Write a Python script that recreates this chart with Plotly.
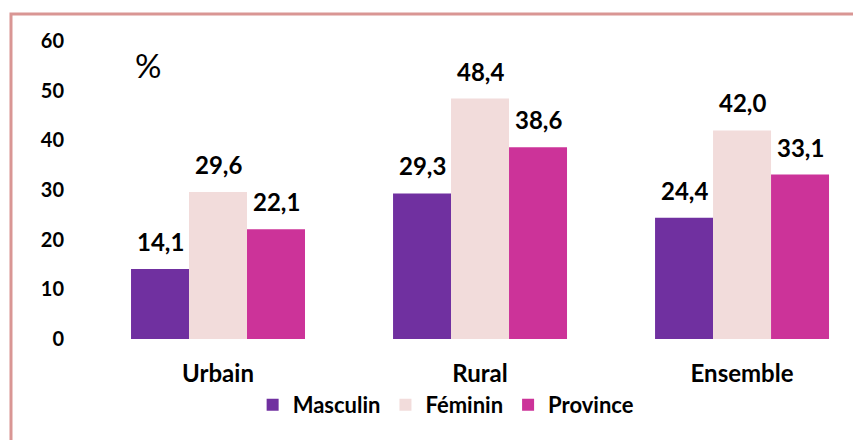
import plotly.graph_objects as go

categories = ["Urbain", "Rural", "Ensemble"]
series_names = ["Masculin", "Féminin", "Province"]
masculin = [14.1, 29.3, 24.4]
feminin = [29.6, 48.4, 42.0]
province = [22.1, 38.6, 33.1]
y_ticks = [0, 10, 20, 30, 40, 50, 60]

colors = ["#7030A0", "#F2DCDB", "#CC3399"]
series_values = [masculin, feminin, province]

FONT = "Lato"
bargap = 0.336
n = len(series_values)
w = (1 - bargap) / n
xpos = list(range(len(categories)))

fig = go.Figure()
for k, (name, vals, col) in enumerate(zip(series_names, series_values, colors)):
    fig.add_trace(go.Bar(
        x=xpos, y=vals, name=name, marker=dict(color=col, line=dict(width=0)),
        hoverinfo="skip",
    ))
    for i, v in enumerate(vals):
        fig.add_annotation(
            x=i + (k - (n - 1) / 2) * w, y=v, xref="x", yref="y",
            text=f"{v:.1f}".replace(".", ","), showarrow=False,
            yanchor="bottom", yshift=11,
            font=dict(family=FONT, size=24, color="#000000", weight="bold"),
        )

# percent sign
fig.add_annotation(x=0.0788, y=0.92, xref="paper", yref="paper", text="%",
                   showarrow=False, font=dict(family=FONT, size=33, color="#000000"),
                   xanchor="center", yanchor="middle")

# frame border
fig.add_shape(type="rect", xref="paper", yref="paper",
              x0=-0.0982, y0=-0.6, x1=1.1, y1=1.0906,
              line=dict(color="#D99694", width=3), fillcolor="rgba(0,0,0,0)")

fig.update_layout(
    width=853, height=432,
    margin=dict(l=79, r=0, t=33, b=101),
    paper_bgcolor="white", plot_bgcolor="white",
    barmode="group", bargap=bargap, bargroupgap=0,
    showlegend=True,
    legend=dict(orientation="h", x=0.464, y=-0.221, xanchor="center", yanchor="middle",
                font=dict(family=FONT, size=22, color="#000000", weight="bold"),
                itemwidth=30, traceorder="normal"),
    xaxis=dict(range=[-0.5, 2.454], tickmode="array", tickvals=xpos, ticktext=categories,
               showgrid=False, zeroline=False, showline=False, ticks="",
               ticklabelstandoff=18,
               tickfont=dict(family=FONT, size=24, color="#000000", weight="bold")),
    yaxis=dict(range=[0, 60], tickmode="array", tickvals=y_ticks,
               showgrid=False, zeroline=False, showline=False, ticks="",
               ticklabelstandoff=22,
               tickfont=dict(family=FONT, size=20, color="#000000", weight="bold")),
)

fig.write_html("out.html")
